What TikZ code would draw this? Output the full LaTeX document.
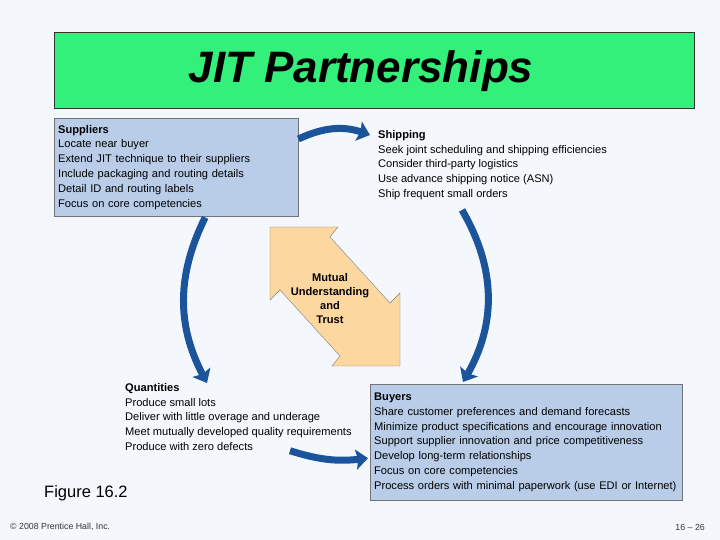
\documentclass[tikz,border=0pt]{standalone}
\usepackage{fontspec}
\setmainfont{Liberation Sans}
\usetikzlibrary{arrows.meta,positioning}
\definecolor{slidebg}{RGB}{244,248,252}
\definecolor{titlegreen}{RGB}{51,240,122}
\definecolor{boxblue}{RGB}{185,205,233}
\definecolor{flowblue}{RGB}{28,84,156}
\definecolor{peach}{RGB}{252,216,160}
\newcommand{\bodyfont}[0]{\fontsize{11.1}{14.8}\selectfont}

\begin{document}
\begin{tikzpicture}[x=1pt,y=1pt]
\tikzstyle{partner}=[draw=black!55,fill=boxblue,anchor=north west,inner xsep=4pt,inner ysep=0pt,align=left,font=\bodyfont]
\tikzstyle{plain}=[anchor=north west,inner sep=0pt,align=left,font=\bodyfont]
\tikzstyle{flow}=[draw=flowblue,line width=7pt,-{Stealth[length=12pt,width=20pt,inset=2pt]}]
\tikzstyle{foot}=[inner sep=0pt,font=\fontsize{8.8}{10}\selectfont,text=black!80]

\fill[slidebg] (0,0) rectangle (720,540);
\useasboundingbox (0,0) rectangle (720,540);

\node[draw=black!80,fill=titlegreen,minimum width=640pt,minimum height=76pt,anchor=north west] (banner) at (54,508) {};
\node[font=\fontsize{44}{48}\selectfont\bfseries\itshape] (title) at (361,469) {JIT Partnerships};

\node[partner,text width=236pt,minimum height=98pt] (sup) at (54,422)
  {\textbf{Suppliers}\\Locate near buyer\\Extend JIT technique to their suppliers\\Include packaging and routing details\\Detail ID and routing labels\\Focus on core competencies};
\node[plain] (ship) at (378,410)
  {\textbf{Shipping}\\Seek joint scheduling and shipping efficiencies\\Consider third-party logistics\\Use advance shipping notice (ASN)\\Ship frequent small orders};
\node[plain] (quant) at (125,157)
  {\textbf{Quantities}\\Produce small lots\\Deliver with little overage and underage\\Meet mutually developed quality requirements\\Produce with zero defects};
\node[partner,text width=304pt,minimum height=116pt] (buy) at (370,156)
  {\textbf{Buyers}\\Share customer preferences and demand forecasts\\Minimize product specifications and encourage innovation\\Support supplier innovation and price competitiveness\\Develop long-term relationships\\Focus on core competencies\\Process orders with minimal paperwork (use EDI or Internet)};

\draw[draw=black!50,fill=peach] (270,313) -- (338,313) -- (330,303) -- (390,237) -- (400,247)
  -- (400,174) -- (332,174) -- (340,184) -- (280,250) -- (270,240) -- cycle;
\node[font=\fontsize{11.1}{14}\selectfont\bfseries,align=center] (trust) at (330,241) {Mutual\\Understanding\\and\\Trust};

\path ([yshift=-21pt]sup.north east) edge[flow,bend left=22] ([xshift=-8pt,yshift=-5pt]ship.north west);
\path ([xshift=84pt,yshift=-80pt]ship.north west) edge[flow,bend left=30] ([xshift=93pt,yshift=2pt]buy.north west);
\path ([xshift=29pt,yshift=-1pt]sup.south) edge[flow,bend right=27] ([xshift=82pt]quant.north west);
\path ([xshift=165pt]quant.south west) edge[flow,bend right=12] ([xshift=-2pt,yshift=-16pt]buy.west);

\node[anchor=west,inner sep=0pt,font=\fontsize{16.5}{19}\selectfont] (fig) at (44,47) {Figure 16.2};
\node[foot,anchor=west] (copy) at (10,13) {\textcopyright{} 2008 Prentice Hall, Inc.};
\node[foot,anchor=east] (page) at (705,13) {16 -- 26};
\end{tikzpicture}
\end{document}
